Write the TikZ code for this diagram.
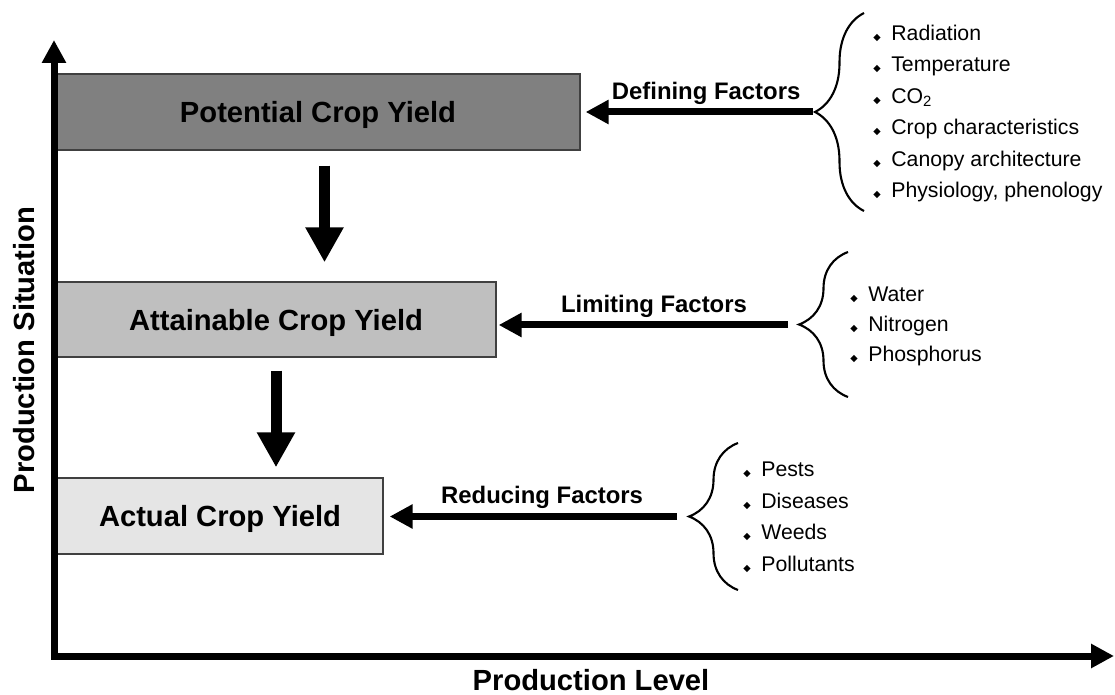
\documentclass[tikz,border=0pt]{standalone}
\usepackage{fontspec}
\setmainfont{Liberation Sans}
\newfontfamily\symfont{DejaVu Sans}
\usetikzlibrary{positioning,arrows.meta,decorations.pathreplacing}

\newcommand{\dia}{{\symfont\fontsize{5.5}{6}\selectfont ◆}\hspace{6pt}}

\tikzset{
  yieldbox/.style={draw=black!75, line width=0.8pt, inner sep=0pt, text depth=0pt,
    font=\fontsize{16.6}{20}\selectfont\bfseries},
  axislabel/.style={font=\fontsize{16.6}{20}\selectfont\bfseries},
  factor/.style={font=\fontsize{13.6}{16}\selectfont\bfseries},
  item/.style={anchor=base west, inner sep=0pt, font=\fontsize{12.1}{14}\selectfont},
  axis/.style={line width=0.14cm,
    {Triangle[length=0.46cm,width=0.46cm]}-{Triangle[length=0.46cm,width=0.46cm]}},
  push/.style={line width=0.14cm, -{Triangle[length=0.46cm,width=0.46cm]},
    shorten >=0.1cm},
  drop/.style={line width=0.22cm, -{Triangle[length=0.7cm,width=0.72cm]}},
  curly/.style={decorate, decoration={brace, amplitude=0.98cm}, line width=1.2pt},
}

\begin{document}
\begin{tikzpicture}[x=0.02cm, y=-0.02cm]
\useasboundingbox (0,0) rectangle (1115,695);

% item columns
\def\xa{873}
\def\xb{850}
\def\xc{743}

% yield boxes
\node[yieldbox, fill=black!50, minimum width=10.48cm, minimum height=1.52cm]
  (pcy) at (318,112) {Potential Crop Yield};
\node[yieldbox, fill=black!25, minimum width=8.8cm, minimum height=1.5cm]
  (aty) at (276,319.5) {Attainable Crop Yield};
\node[yieldbox, fill=black!10, minimum width=6.52cm, minimum height=1.52cm]
  (acy) at (220,516) {Actual Crop Yield};

\draw[drop, shorten <=0.3cm, shorten >=0.38cm]
  ([xshift=0.13cm]pcy.south) -- ([xshift=0.13cm]pcy.south |- aty.north);
\draw[drop, shorten <=0.26cm, shorten >=0.2cm]
  (aty.south) -- (aty.south |- acy.north);

% axes
\coordinate (o) at (54,656);
\coordinate (ytop) at (54,40);
\coordinate (xend) at (1114,656);
\draw[axis] (ytop) -- (o) -- (xend);
\node[axislabel] (plev) at (591,680) {Production Level};
\node[axislabel, rotate=90] (psit) at (24,350) {Production Situation};

% defining factors
\draw[curly] (864,211) -- (864,13);
\coordinate (dfa) at (813,112);
\draw[push] (dfa) -- node[factor, pos=0.46, above=-1pt] (dflab) {Defining Factors} (pcy.east);
\node[item] (rad) at (\xa,41) {\dia Radiation};
\node[item] (temp) at (\xa,72) {\dia Temperature};
\node[item] (co) at (\xa,103.5) {\dia CO\textsubscript{2}};
\node[item] (cch) at (\xa,135) {\dia Crop characteristics};
\node[item] (can) at (\xa,166.5) {\dia Canopy architecture};
\node[item] (phy) at (\xa,198) {\dia Physiology, phenology};

% limiting factors
\draw[curly] (848,397) -- (848,252);
\coordinate (lfa) at (788,325);
\draw[push, shorten >=0.04cm] (lfa) -- node[factor, pos=0.46, above=-1pt] (lflab) {Limiting Factors} (lfa -| aty.east);
\node[item] (wat) at (\xb,302) {\dia Water};
\node[item] (nit) at (\xb,332) {\dia Nitrogen};
\node[item] (pho) at (\xb,362) {\dia Phosphorus};

% reducing factors
\draw[curly] (738,590) -- (738,443);
\coordinate (rfa) at (677,516.5);
\draw[push, shorten >=0.12cm] (rfa) -- node[factor, pos=0.46, above=-1pt] (rflab) {Reducing Factors} (rfa -| acy.east);
\node[item] (pes) at (\xc,477) {\dia Pests};
\node[item] (dis) at (\xc,508) {\dia Diseases};
\node[item] (wee) at (\xc,539.5) {\dia Weeds};
\node[item] (pol) at (\xc,571) {\dia Pollutants};
\end{tikzpicture}
\end{document}
